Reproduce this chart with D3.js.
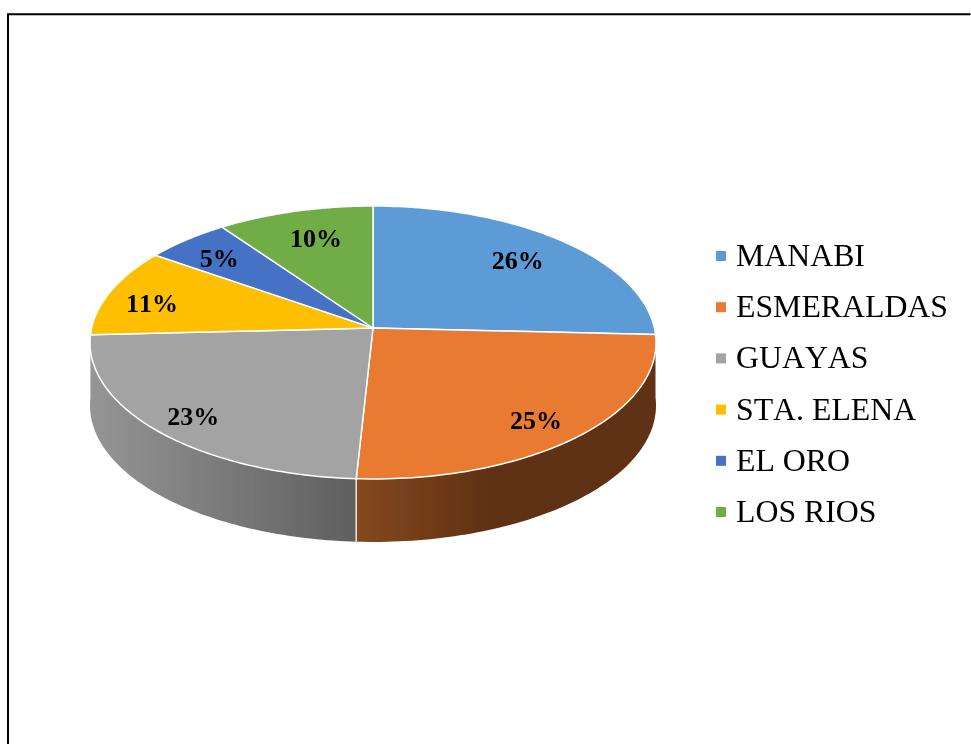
<!DOCTYPE html>
<html>
<head>
<meta charset="utf-8">
<script src="https://cdn.jsdelivr.net/npm/d3@7/dist/d3.min.js"></script>
<style>
html,body{margin:0;padding:0;background:#fff;overflow:hidden}
svg{display:block}
text{font-family:"Liberation Serif","Times New Roman",serif;fill:#000;font-kerning:none}
</style>
</head>
<body>
<svg id="c" width="971" height="744"></svg>
<script>
const categories = ["MANABI","ESMERALDAS","GUAYAS","STA. ELENA","EL ORO","LOS RIOS"];
const shares = [25.75,25.1,23.35,10.5,5.4,9.9];
const colors = ["#5b9bd5","#e97a30","#a3a3a3","#fdbf00","#4472c4","#70ad47"];

// Layout
const W=971,H=744;
const svg=d3.select("#c");
const cx=373, apexY=328, persp=0.1062, depth=63;
const sx=d3.scaleLinear().domain([-1,1]).range([-281.4,281.4]);
const sv=d3.scaleLinear().domain([-1,1]).range([apexY-100.1,apexY+100.1]);
// Perspective projection of a point on the unit disc (u right, v toward viewer)
function project(u,v){
  const w=1-persp*v;
  return [cx+sx(u)/w, sv(v)/w];
}
const polar=(a,r=1)=>project(r*Math.sin(a),-r*Math.cos(a));
const arcPts=(a0,a1)=>d3.range(0,1.0001,1/80).map(t=>polar(a0+(a1-a0)*t));

const arcs=d3.pie().sort(null).value(d=>d)(shares);
const line=d3.line();

// Frame
const frame=svg.append("g").attr("stroke","#000").attr("stroke-width",2).attr("fill","none");
frame.append("path").attr("d",line([[8,H],[8,14.3],[970.5,14.3]]));

// Side gradients and soft edge
const defs=svg.append("defs");
defs.append("filter").attr("id","soft").attr("filterUnits","userSpaceOnUse")
  .attr("x",0).attr("y",0).attr("width",W).attr("height",H)
  .append("feGaussianBlur").attr("stdDeviation",0.5);
function grad(id,x1,x2,stops){
  const g=defs.append("linearGradient").attr("id",id).attr("gradientUnits","userSpaceOnUse")
    .attr("x1",x1).attr("x2",x2).attr("y1",0).attr("y2",0);
  stops.forEach(s=>g.append("stop").attr("offset",s[0]).attr("stop-color",s[1]));
}
grad("gGray",90,356,[[0,"#959595"],[1,"#5f5f5f"]]);
grad("gBrown",357,656,[[0,"#85481f"],[0.45,"#5f3112"],[1,"#5f3112"]]);

const chart=svg.append("g").attr("filter","url(#soft)");

// Rim
const rim=chart.append("g");
[[2,"url(#gGray)"],[1,"url(#gBrown)"]].forEach(([i,f])=>{
  const top=arcPts(arcs[i].startAngle,arcs[i].endAngle);
  const bottom=top.slice().reverse().map(p=>[p[0],p[1]+depth]);
  rim.append("path").attr("d",line(top.concat(bottom))+"Z").attr("fill",f);
});
// Divider on the rim between the two front slices
const divTop=polar(arcs[1].endAngle);
rim.append("path").attr("d",line([divTop,[divTop[0],divTop[1]+depth]]))
  .attr("stroke","#e9e9e9").attr("stroke-width",1.5).attr("fill","none");

// Top face
chart.append("g").selectAll("path").data(arcs).join("path")
  .attr("d",d=>line([project(0,0)].concat(arcPts(d.startAngle,d.endAngle)))+"Z")
  .attr("fill",(d,i)=>colors[i])
  .attr("stroke","#fff").attr("stroke-width",1.5).attr("stroke-linejoin","round");

// Data labels
const labelR=[0.75,0.83,0.85,0.83,0.82,0.74];
const labelDx=[0,-4.6,1.2,-1.8,1,2.3];
const labelDy=[-1.5,3.1,1.8,4.8,3.3,-1.3];
chart.append("g").selectAll("text").data(arcs).join("text")
  .attr("text-anchor","middle").attr("font-weight","bold").attr("font-size",26)
  .each(function(d,i){
    const p=polar((d.startAngle+d.endAngle)/2,labelR[i]);
    d3.select(this).attr("x",p[0]+labelDx[i]).attr("y",p[1]+labelDy[i]+9);
  })
  .text(d=>Math.round(d.value)+"%");

// Legend
const ly=d3.scalePoint().domain(categories).range([256,512]);
const leg=chart.append("g").selectAll("g").data(categories).join("g");
leg.append("rect").attr("x",716).attr("width",10).attr("height",10)
  .attr("y",d=>ly(d)-5).attr("fill",(d,i)=>colors[i]);
leg.append("text").attr("x",736).attr("y",d=>ly(d)+10).attr("font-size",31.8).text(d=>d);
</script>
</body>
</html>
